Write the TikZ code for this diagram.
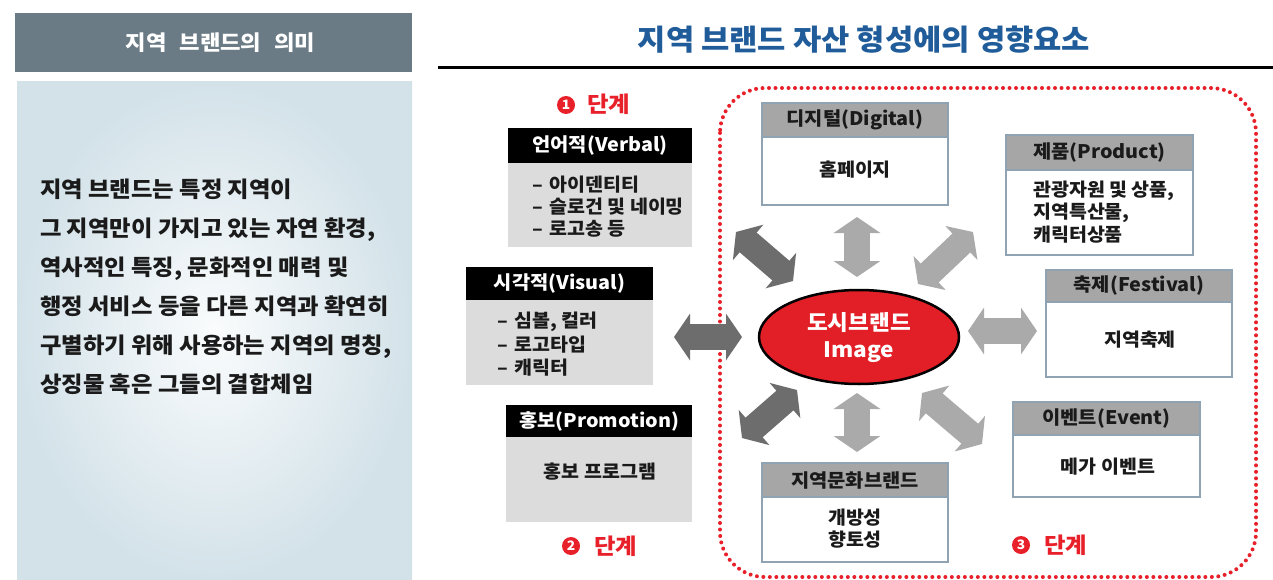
\documentclass[tikz,border=0pt]{standalone}
\usepackage{fontspec}
\setmainfont{Noto Sans CJK KR}[FakeStretch=1.06]
\usetikzlibrary{arrows.meta,shapes.geometric}
\definecolor{hdrslate}{HTML}{6B7B85}
\definecolor{panelblue}{HTML}{D3E2E9}
\definecolor{titleblue}{HTML}{1F5C99}
\definecolor{stagered}{HTML}{E8202A}
\definecolor{hdrgray}{HTML}{A6A6A6}
\definecolor{bodygray}{HTML}{DCDCDC}
\definecolor{bordc}{HTML}{8FA3B3}
\definecolor{txt}{HTML}{1A1A1A}
\definecolor{arrdark}{HTML}{6D6D6D}
\definecolor{arrlight}{HTML}{AAAAAA}
\definecolor{ellred}{HTML}{E21F26}
\tikzset{
  fs/.style={font=\fontsize{#1}{#1}\selectfont\bfseries},
  hdrK/.style={fill=black, text=white, inner sep=0pt, fs=18.7},
  hdrG/.style={fill=hdrgray, draw=bordc, line width=1.2pt, text=txt, inner sep=0pt, fs=18.7},
  bodyG/.style={fill=bodygray, inner sep=0pt},
  bodyW/.style={fill=white, draw=bordc, line width=1.5pt, inner sep=0pt},
  btxt/.style={text=txt, inner sep=0pt, fs=18.4},
  stagenum/.style={circle, fill=stagered, text=white, inner sep=0pt, minimum size=18pt, font=\fontsize{13}{13}\selectfont\bfseries},
  stagetxt/.style={text=stagered, inner sep=0pt, fs=22, anchor=west},
  darr/.style={line width=26pt, {Triangle[length=16pt,width=46pt]}-{Triangle[length=16pt,width=46pt]}},
  dark/.style={darr, draw=arrdark},
  light/.style={darr, draw=arrlight},
}
\newcommand{\dsh}{–\hspace{0.35em}}
\begin{document}
\begin{tikzpicture}[x=1pt,y=-1pt]
\useasboundingbox (0,0) rectangle (1273,580);
\fill[white] (0,0) rectangle (1273,580);
% left panel
\node[fill=hdrslate, minimum width=397pt, minimum height=59pt, inner sep=0pt, text=white, fs=21] (lefthdr) at (213.5,42.5) {\hspace{14pt}지역\hspace{0.6em}브랜드의\hspace{0.6em}의미};
\shade[inner color=white!88!panelblue, outer color=panelblue] (17,82) rectangle (412,580);
\node[anchor=west, align=left, text=txt, inner sep=0pt, font=\fontsize{22}{39}\selectfont\bfseries] (lefttext) at (40,287) {지역 브랜드는 특정 지역이\\그 지역만이 가지고 있는 자연 환경,\\역사적인 특징, 문화적인 매력 및\\행정 서비스 등을 다른 지역과 확연히\\구별하기 위해 사용하는 지역의 명칭,\\상징물 혹은 그들의 결합체임};
% title
\node[text=titleblue, inner sep=0pt, fs=29] (title) at (864,40) {지역 브랜드 자산 형성에의 영향요소};
\draw[line width=3pt, black] (438,68) -- (1273,68);
% dotted frame
\draw[stagered, line width=4pt, line cap=round, dash pattern=on 0pt off 6.5pt, rounded corners=45pt] (720,88) rectangle (1256,577);
% stages
\node[stagenum] (s1) at (566,105) {1};
\node[stagetxt] (s1t) at (587,104) {단계};
\node[stagenum] (s2) at (571,546) {2};
\node[stagetxt] (s2t) at (594,546) {단계};
\node[stagenum] (s3) at (1021,545) {3};
\node[stagetxt] (s3t) at (1044,545) {단계};
% verbal
\node[hdrK, minimum width=184pt, minimum height=35pt] (verbalh) at (600,145.5) {언어적(Verbal)};
\node[bodyG, minimum width=184pt, minimum height=84pt, anchor=north] (verbalb) at (verbalh.south) {};
\node[btxt, anchor=west] (v1) at (532,185) {\dsh 아이덴티티};
\node[btxt, anchor=west] (v2) at (532,207) {\dsh 슬로건 및 네이밍};
\node[btxt, anchor=west] (v3) at (532,229) {\dsh 로고송 등};
% visual
\node[hdrK, minimum width=187pt, minimum height=33pt] (visualh) at (559.5,283.5) {시각적(Visual)};
\node[bodyG, minimum width=187pt, minimum height=85pt, anchor=north] (visualb) at (visualh.south) {};
\node[btxt, anchor=west] (w1) at (497,322) {\dsh 심볼, 컬러};
\node[btxt, anchor=west] (w2) at (497,345) {\dsh 로고타입};
\node[btxt, anchor=west] (w3) at (497,368) {\dsh 캐릭터};
% promotion
\node[hdrK, minimum width=186pt, minimum height=32pt] (promoh) at (599,421) {홍보(Promotion)};
\node[bodyG, minimum width=186pt, minimum height=85pt, anchor=north] (promob) at (promoh.south) {};
\node[btxt] (p1) at (600,472) {홍보 프로그램};
% digital
\node[bodyW, minimum width=186pt, minimum height=68pt] (digitalb) at (855,171) {};
\node[hdrG, minimum width=186pt, minimum height=34pt] (digitalh) at (855,120) {디지털(Digital)};
\node[btxt] (d1) at (855,170) {홈페이지};
% product
\node[bodyW, minimum width=187pt, minimum height=85pt] (productb) at (1099.5,212.5) {};
\node[hdrG, minimum width=187pt, minimum height=35pt] (producth) at (1099.5,152.5) {제품(Product)};
\node[btxt, anchor=west] (r1) at (1033,191) {관광자원 및 상품,};
\node[btxt, anchor=west] (r2) at (1033,213) {지역특산물,};
\node[btxt, anchor=west] (r3) at (1033,235) {캐릭터상품};
% festival
\node[bodyW, minimum width=186pt, minimum height=75pt] (festb) at (1139,339.5) {};
\node[hdrG, minimum width=186pt, minimum height=32pt] (festh) at (1139,286) {축제(Festival)};
\node[btxt] (f1) at (1140,340) {지역축제};
% event
\node[bodyW, minimum width=187pt, minimum height=62pt] (eventb) at (1106.5,466) {};
\node[hdrG, minimum width=187pt, minimum height=33pt] (eventh) at (1106.5,418.5) {이벤트(Event)};
\node[btxt] (e1) at (1108,467) {메가 이벤트};
% culture
\node[bodyW, minimum width=186pt, minimum height=65pt] (cultb) at (855,529.5) {};
\node[hdrG, minimum width=186pt, minimum height=34pt] (culth) at (855,480) {지역문화브랜드};
\node[btxt] (c1) at (855,518) {개방성};
\node[btxt] (c2) at (855,540) {향토성};
% ellipse
\node[ellipse, fill=ellred, draw=black, line width=2.5pt, minimum width=200pt, minimum height=94pt, inner sep=0pt] (img) at (859,337) {};
\node[text=white, inner sep=0pt, fs=21.3] (img1) at (859,323) {도시브랜드};
\node[text=white, inner sep=0pt, fs=21.3] (img2) at (859,352) {Image};
% arrow end points
\coordinate (aL1) at (674,337); \coordinate (aL2) at (742,337);
\coordinate (aR1) at (968,331); \coordinate (aR2) at (1037,331);
\coordinate (aT1) at (857,217); \coordinate (aT2) at (857,277);
\coordinate (aB1) at (857,393); \coordinate (aB2) at (857,452);
\coordinate (aTL1) at (736,232); \coordinate (aTL2) at (793,281);
\coordinate (aTR1) at (973,232); \coordinate (aTR2) at (918,284);
\coordinate (aBL1) at (797,390); \coordinate (aBL2) at (742,438);
\coordinate (aBR1) at (922,393); \coordinate (aBR2) at (982,444);
\draw[dark] (aL1) -- (aL2);
\draw[light] (aR1) -- (aR2);
\draw[light] (aT1) -- (aT2);
\draw[light] (aB1) -- (aB2);
\draw[dark] (aTL1) -- (aTL2);
\draw[light] (aTR1) -- (aTR2);
\draw[dark] (aBL1) -- (aBL2);
\draw[light] (aBR1) -- (aBR2);
\end{tikzpicture}
\end{document}
